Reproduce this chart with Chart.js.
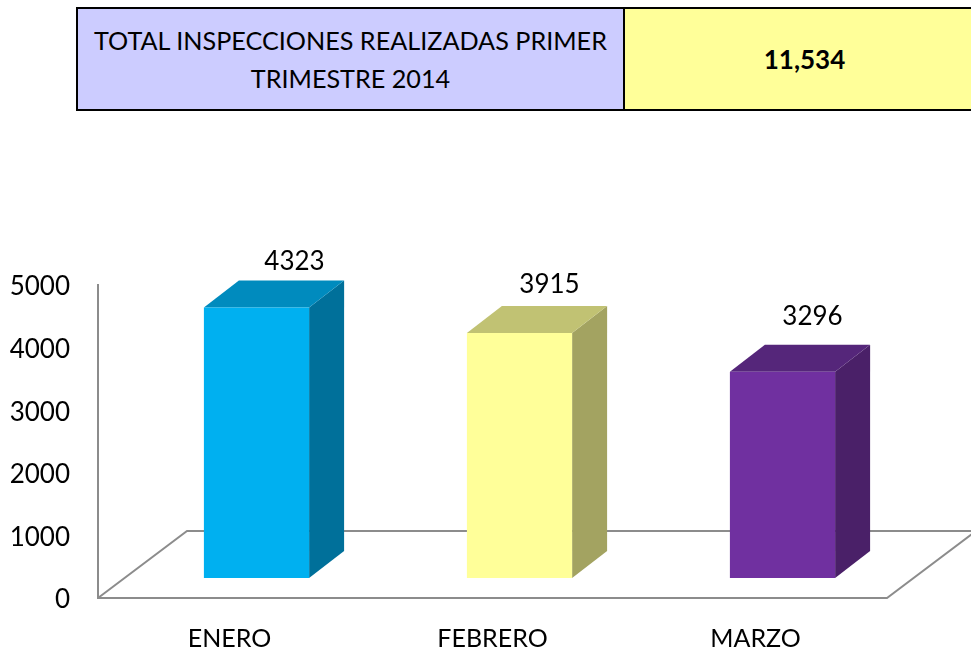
<!DOCTYPE html>
<html><head><meta charset="utf-8">
<script src="https://cdn.jsdelivr.net/npm/chart.js@4/dist/chart.umd.min.js"></script>
<style>
html,body{margin:0;padding:0;background:#fff;overflow:hidden;width:971px;height:649px;font-family:Lato,sans-serif;color:#000}
#c{position:absolute;left:0;top:0}
.cell{position:absolute;top:7px;height:100px;border:solid #000;border-width:2px;display:flex;align-items:center;justify-content:center;text-align:center;box-sizing:content-box}
#a{left:76px;width:545px;background:#ccccff;font-size:25.2px;line-height:38px;border-right-width:1px}
#b{left:624px;width:360px;background:#ffff99;font-size:26px;font-weight:bold;border-left-width:1px;border-right:none;justify-content:flex-start;padding-left:0}
#b span{position:absolute;left:0;width:359px;text-align:center}
</style></head><body>
<canvas id="c" width="971" height="649"></canvas>
<div class="cell" id="a">TOTAL INSPECCIONES REALIZADAS PRIMER<br>TRIMESTRE 2014</div>
<div class="cell" id="b"><span>11,534</span></div>
<script>
const categories = ['ENERO','FEBRERO','MARZO'];
const inspecciones = [4323,3915,3296];
const yTicks = [0,1000,2000,3000,4000,5000];
const frontColors = ['#00B0F0','#FFFF99','#7030A0'];
const topColors = ['#008BBE','#C1C273','#55267A'];
const sideColors = ['#00709A','#A3A361','#4A2068'];
const labelShiftX = [38,30,30];
const labelShiftY = [46,48,55];

const barShift = {x:27,y:-20}, barDepth = {x:35,y:-27}, floorDepth = {x:89,y:-67};

const bars3d = {
  id:'bars3d',
  beforeDatasetsDraw(chart){
    const {ctx,chartArea:a} = chart;
    ctx.save();
    ctx.strokeStyle='#8C8C8C'; ctx.lineWidth=2; ctx.lineJoin='miter';
    ctx.beginPath();
    ctx.moveTo(a.left,a.bottom);
    ctx.lineTo(a.left+floorDepth.x,a.bottom+floorDepth.y);
    ctx.lineTo(a.right+floorDepth.x,a.bottom+floorDepth.y);
    ctx.moveTo(a.right+floorDepth.x,a.bottom+floorDepth.y);
    ctx.lineTo(a.right,a.bottom);
    ctx.lineTo(a.left,a.bottom);
    ctx.stroke();
    ctx.restore();
  },
  beforeDatasetDraw(chart,args){
    const ctx = chart.ctx;
    ctx.save();
    ctx.translate(barShift.x,barShift.y);
    args.meta.data.forEach((b,i)=>{
      const l=b.x-b.width/2, r=b.x+b.width/2, t=b.y, bt=b.base;
      const dx=barDepth.x, dy=barDepth.y;
      ctx.fillStyle=sideColors[i];
      ctx.beginPath();
      ctx.moveTo(r,t);ctx.lineTo(r+dx,t+dy);ctx.lineTo(r+dx,bt+dy);ctx.lineTo(r,bt);
      ctx.closePath();ctx.fill();
      ctx.fillStyle=topColors[i];
      ctx.beginPath();
      ctx.moveTo(l,t);ctx.lineTo(l+dx,t+dy);ctx.lineTo(r+dx,t+dy);ctx.lineTo(r,t);
      ctx.closePath();ctx.fill();
    });
  },
  afterDatasetDraw(chart){ chart.ctx.restore(); },
  afterDatasetsDraw(chart){
    const ctx = chart.ctx;
    const meta = chart.getDatasetMeta(0);
    ctx.save();
    ctx.font='26px Lato, sans-serif';
    ctx.fillStyle='#000';
    ctx.textAlign='center';
    ctx.textBaseline='middle';
    meta.data.forEach((b,i)=>{
      ctx.fillText(String(inspecciones[i]),b.x+barShift.x+labelShiftX[i],b.y+barShift.y-labelShiftY[i]);
    });
    ctx.restore();
  }
};

new Chart(document.getElementById('c'),{
  type:'bar',
  data:{labels:categories,datasets:[{
    label:'Inspecciones',
    data:inspecciones,
    backgroundColor:frontColors,
    borderWidth:0,
    barPercentage:0.4,
    categoryPercentage:1,
    clip:false
  }]},
  plugins:[bars3d],
  options:{
    responsive:false,
    animation:false,
    layout:{padding:{left:0,top:285,right:84,bottom:0}},
    plugins:{legend:{display:false},tooltip:{enabled:false},title:{display:false}},
    scales:{
      x:{
        grid:{display:false,drawTicks:false},
        border:{display:false},
        ticks:{color:'#000',font:{family:'Lato, sans-serif',size:25},maxRotation:0,padding:26},
        afterFit(s){s.height=51;}
      },
      y:{
        min:0,max:5000,
        afterBuildTicks(s){s.ticks=yTicks.map(v=>({value:v}));},
        grid:{display:false,drawTicks:false},
        border:{display:true,color:'#8C8C8C',width:2},
        ticks:{color:'#000',font:{family:'Lato, sans-serif',size:26},padding:28,labelOffset:2,callback:v=>String(v)},
        afterFit(s){s.width=98;}
      }
    }
  }
});
</script>
</body></html>
